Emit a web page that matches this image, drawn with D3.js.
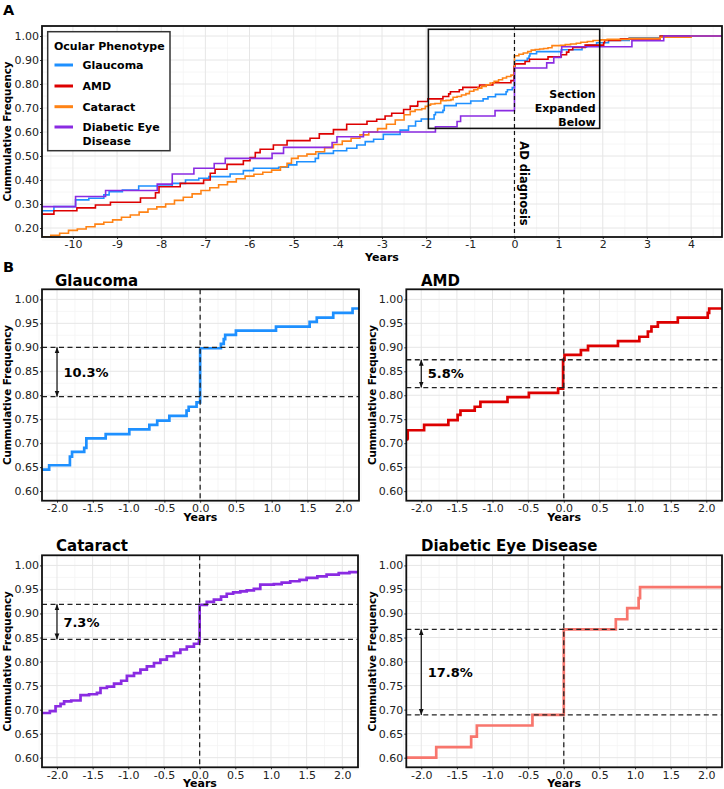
<!DOCTYPE html>
<html><head><meta charset="utf-8">
<script src="https://cdn.jsdelivr.net/npm/d3@7"></script>
<style>body{margin:0;background:#fff}svg{display:block;font-family:"DejaVu Sans",Verdana,sans-serif}</style>
</head><body><svg width="724" height="789"></svg>
<script>
// ---------- DATA (years relative to AD diagnosis, cumulative frequency; step-after) ----------
const glaucoma = [[-10.7,0.272],[-10.43,0.289],[-9.94,0.317],[-9.64,0.324],[-9.30,0.338],[-9.18,0.351],[-8.88,0.358],[-8.51,0.375],[-7.75,0.386],[-7.45,0.40],[-7.15,0.407],[-6.92,0.414],[-6.44,0.425],[-6.14,0.439],[-5.91,0.449],[-5.34,0.453],[-5.12,0.463],[-4.93,0.476],[-4.51,0.49],[-4.44,0.511],[-4.10,0.522],[-3.80,0.532],[-3.57,0.546],[-3.38,0.56],[-3.19,0.57],[-2.97,0.59],[-2.59,0.608],[-2.40,0.625],[-2.24,0.645],[-2.11,0.654],[-1.82,0.672],[-1.79,0.682],[-1.62,0.69],[-1.59,0.71],[-1.32,0.719],[-0.99,0.729],[-0.71,0.738],[-0.60,0.747],[-0.43,0.757],[-0.19,0.768],[-0.16,0.776],[-0.05,0.785],[0,0.898],[0.29,0.907],[0.33,0.917],[0.35,0.926],[0.50,0.935],[1.06,0.943],[1.53,0.953],[1.63,0.962],[1.86,0.972],[2.13,0.981],[2.6,0.993],[3.3,1.0]];
const amd = [[-10.7,0.258],[-10.43,0.272],[-9.91,0.284],[-9.49,0.296],[-9.15,0.307],[-8.47,0.325],[-8.13,0.347],[-8.05,0.372],[-7.57,0.386],[-7.04,0.40],[-6.89,0.428],[-6.78,0.445],[-6.51,0.465],[-6.14,0.48],[-5.99,0.494],[-5.87,0.514],[-5.76,0.528],[-5.46,0.546],[-5.15,0.564],[-4.63,0.574],[-4.42,0.592],[-4.10,0.61],[-3.80,0.632],[-3.34,0.645],[-3.12,0.653],[-2.93,0.667],[-2.78,0.678],[-2.51,0.694],[-2.36,0.708],[-2.2,0.71],[-2.19,0.727],[-1.96,0.738],[-1.62,0.748],[-1.49,0.759],[-1.45,0.768],[-1.25,0.776],[-1.17,0.786],[-0.79,0.796],[-0.49,0.805],[-0.08,0.814],[-0.01,0.874],[0.01,0.884],[0.24,0.894],[0.34,0.903],[0.76,0.913],[1.06,0.922],[1.18,0.933],[1.23,0.943],[1.32,0.952],[1.60,0.962],[2.02,0.972],[2.04,0.981],[2.4,0.988],[3.3,1.0]];
const cataract = [[-10.7,0.163],[-10.5,0.170],[-10.3,0.178],[-10.1,0.190],[-9.9,0.196],[-9.7,0.205],[-9.5,0.216],[-9.3,0.224],[-9.1,0.234],[-8.9,0.245],[-8.7,0.254],[-8.5,0.266],[-8.3,0.279],[-8.1,0.288],[-7.9,0.300],[-7.7,0.315],[-7.5,0.328],[-7.3,0.342],[-7.1,0.356],[-6.9,0.368],[-6.7,0.380],[-6.5,0.392],[-6.3,0.405],[-6.1,0.416],[-5.9,0.424],[-5.7,0.432],[-5.5,0.441],[-5.3,0.455],[-5.15,0.47],[-5.05,0.49],[-4.9,0.500],[-4.7,0.508],[-4.5,0.518],[-4.3,0.535],[-4.1,0.548],[-3.9,0.562],[-3.7,0.574],[-3.5,0.588],[-3.3,0.600],[-3.1,0.614],[-2.9,0.632],[-2.7,0.650],[-2.5,0.672],[-2.36,0.686],[-2.25,0.693],[-2.10,0.697],[-2.02,0.707],[-1.95,0.712],[-1.90,0.717],[-1.80,0.719],[-1.67,0.73],[-1.55,0.732],[-1.44,0.735],[-1.39,0.745],[-1.30,0.748],[-1.2,0.754],[-1.10,0.760],[-1.02,0.77],[-0.92,0.776],[-0.83,0.783],[-0.74,0.790],[-0.64,0.797],[-0.55,0.804],[-0.46,0.811],[-0.36,0.818],[-0.27,0.825],[-0.18,0.831],[-0.08,0.837],[-0.01,0.842],[0,0.918],[0.1,0.924],[0.2,0.929],[0.3,0.935],[0.38,0.941],[0.47,0.944],[0.57,0.946],[0.66,0.948],[0.76,0.951],[0.85,0.96],[1.04,0.961],[1.15,0.964],[1.27,0.967],[1.4,0.970],[1.5,0.974],[1.65,0.977],[1.78,0.981],[1.95,0.984],[2.1,0.986],[2.6,0.99],[3.3,0.995],[4.0,1.0]];
const diabetic = [[-10.7,0.289],[-9.94,0.331],[-9.26,0.356],[-8.09,0.383],[-7.75,0.425],[-7.26,0.449],[-6.8,0.469],[-6.55,0.49],[-5.49,0.511],[-5.23,0.536],[-4.13,0.556],[-4.02,0.58],[-3.42,0.60],[-1.79,0.622],[-1.30,0.644],[-1.22,0.667],[-0.44,0.689],[0,0.867],[0.73,0.888],[0.89,0.911],[1.05,0.932],[1.07,0.955],[2.66,0.98],[3.38,1.0]];

const seriesNames = ["Glaucoma","AMD","Cataract","Diabetic Eye Disease"];
const seriesA = [glaucoma, amd, cataract, diabetic];
const colorsA = ["#1E90FF","#DD0000","#FF8315","#8A2BE2"];
const colorsB = ["#1E90FF","#DD0000","#8A2BE2","#F8766D"];
const gapLow = [0.797, 0.816, 0.846, 0.689];
const gapHigh = [0.900, 0.874, 0.919, 0.867];
const gapLabels = ["10.3%","5.8%","7.3%","17.8%"];
const xTicksA = d3.range(-10, 5, 1);
const yTicksA = [0.2,0.3,0.4,0.5,0.6,0.7,0.8,0.9,1.0];
const xTicksB = [-2.0,-1.5,-1.0,-0.5,0.0,0.5,1.0,1.5,2.0];
const yTicksB = [0.60,0.65,0.70,0.75,0.80,0.85,0.90,0.95,1.00];
const sectionBox = {x0:-1.95, x1:1.93, y0:0.615, y1:1.028};

// ---------- DRAWING ----------
const svg = d3.select("svg");
const defs = svg.append("defs");
const FONT = 11;
const fmtDash = f => d => f(d).replace("\u2212","-");

defs.append("marker").attr("id","ah").attr("viewBox","0 0 10 10").attr("refX",10).attr("refY",5)
  .attr("markerWidth",6).attr("markerHeight",6).attr("orient","auto-start-reverse").attr("markerUnits","userSpaceOnUse")
  .append("path").attr("d","M0,1 L10,5 L0,9 Z").attr("fill","#111");

let clipId = 0;
function panel(o){
  const x = d3.scaleLinear().domain(o.xDom).range([o.x0,o.x1]);
  const y = d3.scaleLinear().domain(o.yDom).range([o.y1,o.y0]);
  const g = svg.append("g");
  const id = "clip"+(clipId++);
  defs.append("clipPath").attr("id",id).append("rect").attr("x",o.x0).attr("y",o.y0).attr("width",o.x1-o.x0).attr("height",o.y1-o.y0);
  g.append("rect").attr("x",o.x0).attr("y",o.y0).attr("width",o.x1-o.x0).attr("height",o.y1-o.y0).attr("fill","#fff");
  const grid = g.append("g");
  grid.selectAll(".xm").data(o.xMinor).join("line").attr("x1",d=>x(d)).attr("x2",d=>x(d)).attr("y1",o.y0).attr("y2",o.y1).attr("stroke","#f4f4f4").attr("stroke-width",0.8);
  grid.selectAll(".ym").data(o.yMinor).join("line").attr("y1",d=>y(d)).attr("y2",d=>y(d)).attr("x1",o.x0).attr("x2",o.x1).attr("stroke","#f4f4f4").attr("stroke-width",0.8);
  grid.selectAll(".xM").data(o.xTicks).join("line").attr("x1",d=>x(d)).attr("x2",d=>x(d)).attr("y1",o.y0).attr("y2",o.y1).attr("stroke","#e6e6e6").attr("stroke-width",1);
  grid.selectAll(".yM").data(o.yTicks).join("line").attr("y1",d=>y(d)).attr("y2",d=>y(d)).attr("x1",o.x0).attr("x2",o.x1).attr("stroke","#e6e6e6").attr("stroke-width",1);
  const ax = g.append("g").attr("transform",`translate(0,${o.y1})`)
    .call(d3.axisBottom(x).tickValues(o.xTicks).tickFormat(o.xFmt).tickSize(2).tickPadding(1.5));
  const ay = g.append("g").attr("transform",`translate(${o.x0},0)`)
    .call(d3.axisLeft(y).tickValues(o.yTicks).tickFormat(o.yFmt).tickSize(2).tickPadding(1));
  [ax,ay].forEach(a=>{
    a.select(".domain").remove();
    a.selectAll("line").attr("stroke","#333");
    a.selectAll("text").attr("font-size",FONT).attr("fill","#222").attr("font-family","DejaVu Sans");
  });
  const plot = g.append("g").attr("clip-path",`url(#${id})`);
  return {x,y,g,plot,o};
}
function frame(p){
  const o=p.o;
  p.g.append("rect").attr("x",o.x0).attr("y",o.y0).attr("width",o.x1-o.x0).attr("height",o.y1-o.y0)
    .attr("fill","none").attr("stroke","#111").attr("stroke-width",1.8);
}
function stepLine(p, data, color, w){
  const ext = data.concat([[p.x.domain()[1]+1, data[data.length-1][1]]]);
  p.plot.append("path").datum(ext)
    .attr("d", d3.line().x(d=>p.x(d[0])).y(d=>p.y(d[1])).curve(d3.curveStepAfter))
    .attr("fill","none").attr("stroke",color).attr("stroke-width",w).attr("stroke-linejoin","miter");
}
function axisTitles(p, xLabelY, yLabelX){
  const o=p.o;
  p.g.append("text").attr("x",(o.x0+o.x1)/2).attr("y",xLabelY).attr("text-anchor","middle")
    .attr("font-size",11).attr("font-weight","bold").text("Years");
  p.g.append("text").attr("transform",`translate(${yLabelX},${(o.y0+o.y1)/2}) rotate(-90)`).attr("text-anchor","middle")
    .attr("dy","0.35em").attr("font-size",10.3).attr("font-weight","bold").text("Cummulative Frequency");
}

// ----- Panel A -----
const A = panel({x0:42,x1:722,y0:26,y1:237,xDom:[-10.7,4.7],yDom:[0.1625,1.0417],
  xTicks:xTicksA, xMinor:d3.range(-10.5,5,1), yTicks:yTicksA, yMinor:[0.15,0.25,0.35,0.45,0.55,0.65,0.75,0.85,0.95],
  xFmt:d=>String(d).replace("\u2212","-"), yFmt:fmtDash(d3.format(".2f"))});
seriesA.forEach((s,i)=>stepLine(A, s, colorsA[i], 1.6));
A.plot.append("line").attr("x1",A.x(0)).attr("x2",A.x(0)).attr("y1",26).attr("y2",237)
  .attr("stroke","#111").attr("stroke-width",1.2).attr("stroke-dasharray","4,3");
A.g.append("rect").attr("x",A.x(sectionBox.x0)).attr("y",A.y(sectionBox.y1))
  .attr("width",A.x(sectionBox.x1)-A.x(sectionBox.x0)).attr("height",A.y(sectionBox.y0)-A.y(sectionBox.y1))
  .attr("fill","none").attr("stroke","#111").attr("stroke-width",1.6);
["Section","Expanded","Below"].forEach((t,i)=>{
  A.g.append("text").attr("x",A.x(sectionBox.x1)-4).attr("y",98+i*14).attr("text-anchor","end")
    .attr("font-size",11).attr("font-weight","bold").text(t);
});
A.g.append("text").attr("transform",`translate(${A.x(0)+10},183.5) rotate(90)`).attr("text-anchor","middle")
  .attr("dy","0.35em").attr("font-size",11.5).attr("font-weight","bold").text("AD diagnosis");
frame(A);
axisTitles(A, 261, 7);
// legend
const lg = svg.append("g");
lg.append("rect").attr("x",47.7).attr("y",31.7).attr("width",122.3).attr("height",119).attr("fill","#fff").attr("stroke","#333").attr("stroke-width",1.5);
lg.append("text").attr("x",54).attr("y",49.5).attr("font-size",11).attr("font-weight","bold").text("Ocular Phenotype");
const legY = [65, 86, 106.7, 127];
seriesNames.forEach((n,i)=>{
  lg.append("line").attr("x1",54.5).attr("x2",73).attr("y1",legY[i]).attr("y2",legY[i]).attr("stroke",colorsA[i]).attr("stroke-width",3);
  const words = n==="Diabetic Eye Disease" ? ["Diabetic Eye","Disease"] : [n];
  words.forEach((w,j)=>lg.append("text").attr("x",82.5).attr("y",legY[i]+4+j*14).attr("font-size",11).attr("font-weight","bold").text(w));
});
svg.append("text").attr("x",3).attr("y",15).attr("font-size",14.5).attr("font-weight","bold").text("A");
svg.append("text").attr("x",3).attr("y",272).attr("font-size",14.5).attr("font-weight","bold").text("B");

// ----- Panels B -----
const bBoxes = [
  {x0:42,x1:359,y0:289.3,y1:500.7,xl:521,yl:7,tx:55,ty:285.7},
  {x0:406.3,x1:722,y0:289.3,y1:500.7,xl:521,yl:372,tx:421,ty:285.7},
  {x0:42,x1:358,y0:555.3,y1:767.3,xl:786.5,yl:7,tx:56,ty:551},
  {x0:406.3,x1:722,y0:555.3,y1:767.3,xl:786.5,yl:372,tx:421,ty:551}
];
bBoxes.forEach((b,i)=>{
  const p = panel({x0:b.x0,x1:b.x1,y0:b.y0,y1:b.y1,xDom:[-2.21,2.22],yDom:[0.58,1.021],
    xTicks:xTicksB, xMinor:d3.range(-2.25,2.3,0.5), yTicks:yTicksB, yMinor:d3.range(0.575,1.02,0.05),
    xFmt:fmtDash(d3.format(".1f")), yFmt:fmtDash(d3.format(".2f"))});
  stepLine(p, seriesA[i], colorsB[i], 2.7);
  const dash = {stroke:"#222","stroke-width":1.3,"stroke-dasharray":"5,3.5"};
  const l1 = p.plot.append("line").attr("x1",p.x(0)).attr("x2",p.x(0)).attr("y1",b.y0).attr("y2",b.y1);
  const l2 = p.plot.append("line").attr("x1",b.x0).attr("x2",b.x1).attr("y1",p.y(gapLow[i])).attr("y2",p.y(gapLow[i]));
  const l3 = p.plot.append("line").attr("x1",b.x0).attr("x2",b.x1).attr("y1",p.y(gapHigh[i])).attr("y2",p.y(gapHigh[i]));
  [l1,l2,l3].forEach(l=>Object.entries(dash).forEach(([k,v])=>l.attr(k,v)));
  p.g.append("line").attr("x1",p.x(-2.0)).attr("x2",p.x(-2.0)).attr("y1",p.y(gapHigh[i])).attr("y2",p.y(gapLow[i]))
    .attr("stroke","#111").attr("stroke-width",1.2).attr("marker-start","url(#ah)").attr("marker-end","url(#ah)");
  p.g.append("text").attr("x",p.x(-1.91)).attr("y",p.y((gapLow[i]+gapHigh[i])/2)).attr("dy","0.36em")
    .attr("font-size",13).attr("font-weight","bold").text(gapLabels[i]);
  frame(p);
  axisTitles(p, b.xl, b.yl);
  svg.append("text").attr("x",b.tx).attr("y",b.ty).attr("font-size",15).attr("font-weight","bold").text(seriesNames[i]);
});
</script></body></html>
